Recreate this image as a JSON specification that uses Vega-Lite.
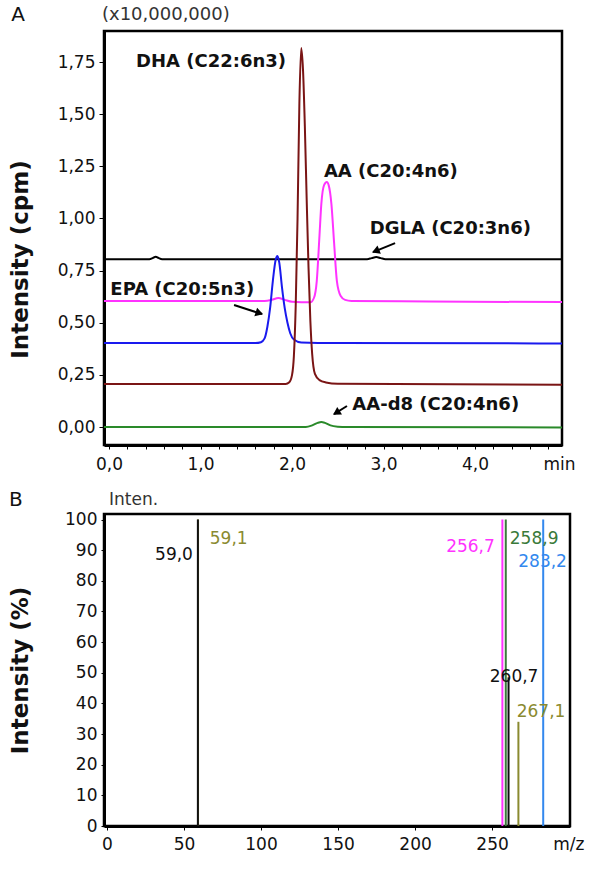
{
  "$schema": "https://vega.github.io/schema/vega-lite/v6.json",
  "padding": {"left": 7, "top": 3, "right": 0, "bottom": 0},
  "config": {
    "font": "DejaVu Sans",
    "view": {"stroke": "#000", "strokeWidth": 2.5},
    "axis": {"grid": false, "domainColor": "#000", "domainWidth": 3, "tickColor": "#000", "tickWidth": 1, "labelColor": "#111", "labelFontSize": 17, "labelFont": "DejaVu Sans", "titleFont": "DejaVu Sans", "titleFontSize": 23, "titleFontWeight": "bold", "titleColor": "#111", "labelFlush": false, "labelOverlap": false},
    "concat": {"spacing": 14}
  },
  "datasets": {
    "chrom": [
      {"compound": "AA-d8", "time": -0.1, "intensity": 0},
      {"compound": "AA-d8", "time": 2.15, "intensity": 0},
      {"compound": "AA-d8", "time": 2.22, "intensity": 0.008},
      {"compound": "AA-d8", "time": 2.28, "intensity": 0.02},
      {"compound": "AA-d8", "time": 2.32, "intensity": 0.024},
      {"compound": "AA-d8", "time": 2.36, "intensity": 0.02},
      {"compound": "AA-d8", "time": 2.42, "intensity": 0.008},
      {"compound": "AA-d8", "time": 2.5, "intensity": 0.002},
      {"compound": "AA-d8", "time": 2.6, "intensity": 0},
      {"compound": "AA-d8", "time": 5.0, "intensity": -0.002},
      {"compound": "DGLA", "time": -0.1, "intensity": 0.805},
      {"compound": "DGLA", "time": 0.44, "intensity": 0.805},
      {"compound": "DGLA", "time": 0.48, "intensity": 0.811},
      {"compound": "DGLA", "time": 0.51, "intensity": 0.817},
      {"compound": "DGLA", "time": 0.54, "intensity": 0.811},
      {"compound": "DGLA", "time": 0.58, "intensity": 0.805},
      {"compound": "DGLA", "time": 2.82, "intensity": 0.805},
      {"compound": "DGLA", "time": 2.87, "intensity": 0.81},
      {"compound": "DGLA", "time": 2.92, "intensity": 0.815},
      {"compound": "DGLA", "time": 2.97, "intensity": 0.81},
      {"compound": "DGLA", "time": 3.02, "intensity": 0.805},
      {"compound": "DGLA", "time": 5.0, "intensity": 0.805},
      {"compound": "AA", "time": -0.1, "intensity": 0.604},
      {"compound": "AA", "time": 1.7, "intensity": 0.604},
      {"compound": "AA", "time": 1.78, "intensity": 0.61},
      {"compound": "AA", "time": 1.85, "intensity": 0.619},
      {"compound": "AA", "time": 1.92, "intensity": 0.61},
      {"compound": "AA", "time": 2.0, "intensity": 0.601},
      {"compound": "AA", "time": 2.2, "intensity": 0.598},
      {"compound": "AA", "time": 2.24, "intensity": 0.62},
      {"compound": "AA", "time": 2.27, "intensity": 0.7},
      {"compound": "AA", "time": 2.3, "intensity": 0.92},
      {"compound": "AA", "time": 2.32, "intensity": 1.07},
      {"compound": "AA", "time": 2.35, "intensity": 1.16},
      {"compound": "AA", "time": 2.38, "intensity": 1.175},
      {"compound": "AA", "time": 2.4, "intensity": 1.16},
      {"compound": "AA", "time": 2.43, "intensity": 1.07},
      {"compound": "AA", "time": 2.46, "intensity": 0.88},
      {"compound": "AA", "time": 2.49, "intensity": 0.7},
      {"compound": "AA", "time": 2.53, "intensity": 0.63},
      {"compound": "AA", "time": 2.58, "intensity": 0.61},
      {"compound": "AA", "time": 2.65, "intensity": 0.605},
      {"compound": "AA", "time": 3.5, "intensity": 0.602},
      {"compound": "AA", "time": 5.0, "intensity": 0.599},
      {"compound": "EPA", "time": -0.1, "intensity": 0.403},
      {"compound": "EPA", "time": 1.6, "intensity": 0.403},
      {"compound": "EPA", "time": 1.66, "intensity": 0.407},
      {"compound": "EPA", "time": 1.7, "intensity": 0.425},
      {"compound": "EPA", "time": 1.73, "intensity": 0.48},
      {"compound": "EPA", "time": 1.76, "intensity": 0.57},
      {"compound": "EPA", "time": 1.79, "intensity": 0.7},
      {"compound": "EPA", "time": 1.82, "intensity": 0.8},
      {"compound": "EPA", "time": 1.84, "intensity": 0.82},
      {"compound": "EPA", "time": 1.86, "intensity": 0.79},
      {"compound": "EPA", "time": 1.89, "intensity": 0.67},
      {"compound": "EPA", "time": 1.92, "intensity": 0.57},
      {"compound": "EPA", "time": 1.95, "intensity": 0.5},
      {"compound": "EPA", "time": 1.98, "intensity": 0.45},
      {"compound": "EPA", "time": 2.02, "intensity": 0.42},
      {"compound": "EPA", "time": 2.1, "intensity": 0.406},
      {"compound": "EPA", "time": 2.5, "intensity": 0.403},
      {"compound": "EPA", "time": 5.0, "intensity": 0.401},
      {"compound": "DHA", "time": -0.1, "intensity": 0.206},
      {"compound": "DHA", "time": 1.93, "intensity": 0.207},
      {"compound": "DHA", "time": 1.97, "intensity": 0.215},
      {"compound": "DHA", "time": 2.0, "intensity": 0.25},
      {"compound": "DHA", "time": 2.02, "intensity": 0.34},
      {"compound": "DHA", "time": 2.04, "intensity": 0.58},
      {"compound": "DHA", "time": 2.06, "intensity": 1.0},
      {"compound": "DHA", "time": 2.08, "intensity": 1.55},
      {"compound": "DHA", "time": 2.1, "intensity": 1.817},
      {"compound": "DHA", "time": 2.12, "intensity": 1.71},
      {"compound": "DHA", "time": 2.14, "intensity": 1.44},
      {"compound": "DHA", "time": 2.16, "intensity": 1.09},
      {"compound": "DHA", "time": 2.18, "intensity": 0.765},
      {"compound": "DHA", "time": 2.2, "intensity": 0.51},
      {"compound": "DHA", "time": 2.22, "intensity": 0.35},
      {"compound": "DHA", "time": 2.25, "intensity": 0.255},
      {"compound": "DHA", "time": 2.3, "intensity": 0.225},
      {"compound": "DHA", "time": 2.37, "intensity": 0.214},
      {"compound": "DHA", "time": 2.5, "intensity": 0.208},
      {"compound": "DHA", "time": 5.0, "intensity": 0.203}
    ],
    "annA": [
      {"label": "DHA (C22:6n3)", "time": 1.115, "intensity": 1.75},
      {"label": "AA (C20:4n6)", "time": 3.08, "intensity": 1.222},
      {"label": "DGLA (C20:3n6)", "time": 3.73, "intensity": 0.949},
      {"label": "EPA (C20:5n3)", "time": 0.8, "intensity": 0.657},
      {"label": "AA-d8 (C20:4n6)", "time": 3.57, "intensity": 0.105}
    ],
    "arrowsA": [
      {"target": "EPA", "time": 1.366, "intensity": 0.585, "time2": 1.672, "intensity2": 0.542},
      {"target": "DGLA", "time": 3.126, "intensity": 0.882, "time2": 2.885, "intensity2": 0.839},
      {"target": "AA-d8", "time": 2.6, "intensity": 0.101, "time2": 2.459, "intensity2": 0.062}
    ],
    "headsA": [
      {"target": "EPA", "time": 1.63, "intensity": 0.548},
      {"target": "DGLA", "time": 2.926, "intensity": 0.846},
      {"target": "AA-d8", "time": 2.496, "intensity": 0.072}
    ],
    "panelA": [{"label": "A", "time": -0.995, "intensity": 1.975}],
    "unitA": [{"label": "(x10,000,000)", "time": -0.077, "intensity": 1.975}],
    "ms": [
      {"mz": 59.1, "pct": 100, "peak": "59,1"},
      {"mz": 59.0, "pct": 100, "peak": "59,0"},
      {"mz": 256.7, "pct": 100, "peak": "256,7"},
      {"mz": 258.9, "pct": 100, "peak": "258,9"},
      {"mz": 260.7, "pct": 48.5, "peak": "260,7"},
      {"mz": 267.1, "pct": 34, "peak": "267,1"},
      {"mz": 283.2, "pct": 100, "peak": "283,2"}
    ],
    "msLabels": [
      {"mz": 43.5, "pct": 88.4, "peak": "59,0"},
      {"mz": 79, "pct": 93.6, "peak": "59,1"},
      {"mz": 236, "pct": 91, "peak": "256,7"},
      {"mz": 277.3, "pct": 93.6, "peak": "258,9"},
      {"mz": 282.8, "pct": 86.1, "peak": "283,2"},
      {"mz": 264.3, "pct": 48.6, "peak": "260,7"},
      {"mz": 281.8, "pct": 37.2, "peak": "267,1"}
    ],
    "panelB": [{"label": "B", "mz": -59.1, "pct": 106.4}],
    "unitB": [{"label": "Inten.", "mz": 1.3, "pct": 106.4}]
  },
  "resolve": {"scale": {"x": "independent", "y": "independent", "color": "independent"}},
  "vconcat": [
    {
      "width": 458,
      "height": 414,
      "encoding": {
        "x": {"field": "time", "type": "quantitative",
          "scale": {"domain": [-0.055, 4.95], "nice": false, "zero": false},
          "axis": {"values": [0, 0.2, 0.4, 0.6, 0.8, 1, 1.2, 1.4, 1.6, 1.8, 2, 2.2, 2.4, 2.6, 2.8, 3, 3.2, 3.4, 3.6, 3.8, 4, 4.2, 4.4, 4.6, 4.8],
            "labelExpr": "abs(datum.value - round(datum.value)) < 0.001 ? replace(format(datum.value, '.1f'), '.', ',') : ''",
            "tickSize": 4, "labelPadding": 7,
            "title": "min", "titleFontWeight": "normal", "titleFontSize": 17, "titleAlign": "right", "titleBaseline": "top", "titleX": 471, "titleY": 11}},
        "y": {"field": "intensity", "type": "quantitative",
          "scale": {"domain": [-0.086, 1.899], "nice": false, "zero": false},
          "axis": {"values": [0, 0.25, 0.5, 0.75, 1, 1.25, 1.5, 1.75],
            "labelExpr": "replace(format(datum.value, '.2f'), '.', ',')",
            "tickSize": 5, "labelPadding": 4,
            "title": "Intensity (cpm)", "titleX": -72, "titleY": 228}}
      },
      "layer": [
        {"data": {"name": "chrom"},
          "mark": {"type": "line", "interpolate": "monotone", "strokeWidth": 2, "clip": true},
          "encoding": {"color": {"field": "compound", "type": "nominal", "legend": null,
            "scale": {"domain": ["AA-d8", "DGLA", "AA", "EPA", "DHA"], "range": ["#2a8a2a", "#000000", "#ff33ff", "#1a1aee", "#7a1515"]}}}},
        {"data": {"name": "annA"},
          "mark": {"type": "text", "fontWeight": "bold", "fontSize": 18, "color": "#111"},
          "encoding": {"text": {"field": "label"}}},
        {"data": {"name": "arrowsA"},
          "mark": {"type": "rule", "strokeWidth": 2, "color": "#000"},
          "encoding": {"x2": {"field": "time2"}, "y2": {"field": "intensity2"}}},
        {"data": {"name": "headsA"}, "transform": [{"filter": "datum.target == 'EPA'"}],
          "mark": {"type": "point", "shape": "triangle", "filled": true, "size": 80, "angle": 108, "color": "#000", "opacity": 1}},
        {"data": {"name": "headsA"}, "transform": [{"filter": "datum.target == 'DGLA'"}],
          "mark": {"type": "point", "shape": "triangle", "filled": true, "size": 80, "angle": 248, "color": "#000", "opacity": 1}},
        {"data": {"name": "headsA"}, "transform": [{"filter": "datum.target == 'AA-d8'"}],
          "mark": {"type": "point", "shape": "triangle", "filled": true, "size": 80, "angle": 238, "color": "#000", "opacity": 1}},
        {"data": {"name": "panelA"},
          "mark": {"type": "text", "fontSize": 20, "color": "#111"},
          "encoding": {"text": {"field": "label"}}},
        {"data": {"name": "unitA"},
          "mark": {"type": "text", "fontSize": 18, "color": "#333", "align": "left"},
          "encoding": {"text": {"field": "label"}}}
      ]
    },
    {
      "width": 466,
      "height": 312,
      "encoding": {
        "x": {"field": "mz", "type": "quantitative",
          "scale": {"domain": [-1.95, 300.6], "nice": false, "zero": false},
          "axis": {"values": [0, 50, 100, 150, 200, 250], "tickSize": 4, "labelPadding": 6,
            "title": "m/z", "titleFontWeight": "normal", "titleFontSize": 17, "titleAlign": "right", "titleBaseline": "top", "titleX": 480, "titleY": 10}},
        "y": {"field": "pct", "type": "quantitative",
          "scale": {"domain": [0, 101.8], "nice": false, "zero": false},
          "axis": {"values": [0, 10, 20, 30, 40, 50, 60, 70, 80, 90, 100], "tickSize": 3, "labelPadding": 4,
            "title": "Intensity (%)", "titleX": -72, "titleY": 156}}
      },
      "layer": [
        {"data": {"name": "ms"},
          "mark": {"type": "rule", "strokeWidth": 2},
          "encoding": {"y2": {"datum": 0},
            "color": {"field": "peak", "type": "nominal", "legend": null,
              "scale": {"domain": ["59,0", "59,1", "256,7", "258,9", "283,2", "260,7", "267,1"], "range": ["#111111", "#8a8a30", "#ff33ff", "#3a7a3a", "#3388ee", "#111111", "#8a8a30"]}}}},
        {"data": {"name": "msLabels"},
          "mark": {"type": "text", "fontSize": 17},
          "encoding": {"text": {"field": "peak"},
            "color": {"field": "peak", "type": "nominal", "legend": null,
              "scale": {"domain": ["59,0", "59,1", "256,7", "258,9", "283,2", "260,7", "267,1"], "range": ["#111111", "#8a8a30", "#ff33ff", "#3a7a3a", "#3388ee", "#111111", "#8a8a30"]}}}},
        {"data": {"name": "panelB"},
          "mark": {"type": "text", "fontSize": 20, "color": "#111"},
          "encoding": {"text": {"field": "label"}}},
        {"data": {"name": "unitB"},
          "mark": {"type": "text", "fontSize": 17, "color": "#333", "align": "left"},
          "encoding": {"text": {"field": "label"}}}
      ]
    }
  ]
}
